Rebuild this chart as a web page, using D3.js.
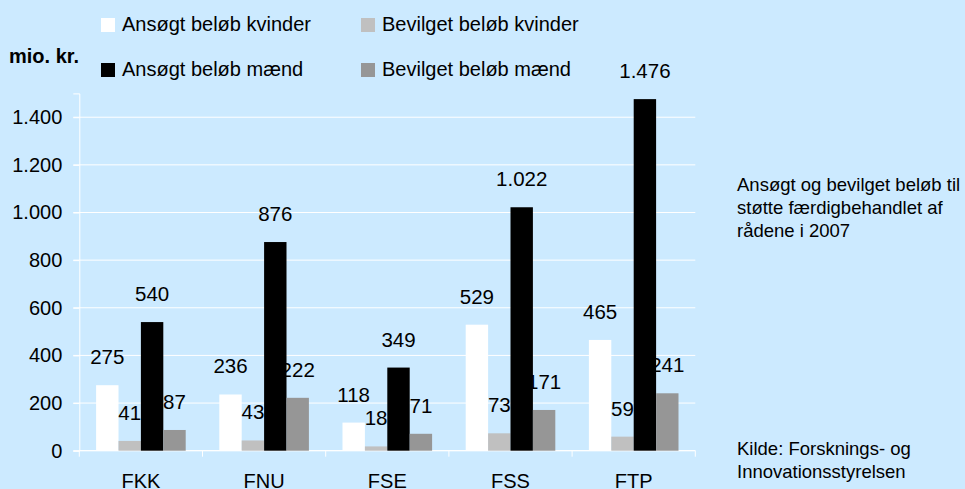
<!DOCTYPE html>
<html>
<head>
<meta charset="utf-8">
<script src="https://d3js.org/d3.v7.min.js"></script>
<style>
  body { margin: 0; background: #cceaff; }
  svg { display: block; font-family: "Liberation Sans", Arial, sans-serif; }
</style>
</head>
<body>
<svg class="chart" width="965" height="489"></svg>
<script>
// data (mio. kr.)
const categories = ["FKK", "FNU", "FSE", "FSS", "FTP"];
const seriesNames = ["Ansøgt beløb kvinder", "Bevilget beløb kvinder", "Ansøgt beløb mænd", "Bevilget beløb mænd"];
const ansoegtKvinder = [275, 236, 118, 529, 465];
const bevilgetKvinder = [41, 43, 18, 73, 59];
const ansoegtMaend = [540, 876, 349, 1022, 1476];
const bevilgetMaend = [87, 222, 71, 171, 241];
const yTicks = [0, 200, 400, 600, 800, 1000, 1200, 1400];
const seriesColors = ["#ffffff", "#c0c0c0", "#000000", "#969696"];

const seriesValues = [ansoegtKvinder, bevilgetKvinder, ansoegtMaend, bevilgetMaend];

// danish number format, 1.476
const dk = d3.formatLocale({decimal: ",", thousands: ".", grouping: [3], currency: ["", " kr."]});
const fmt = dk.format(",d");

const svg = d3.select(".chart");
const plotLeft = 79.3, plotRight = 695.3, plotTop = 93.4, plotBottom = 450.7;

let x0 = d3.scaleBand().domain(categories).range([plotLeft, plotRight]).padding(0);
let x1 = d3.scaleBand().domain(seriesNames).range([0, x0.bandwidth()]).paddingInner(0).paddingOuter(0.75);
let ys = d3.scaleLinear().domain([0, 1500]).range([plotBottom, plotTop]);

// gridlines (white)
svg.append("g").selectAll("line")
  .data(yTicks)
  .join("line")
  .attr("x1", plotLeft - 6).attr("x2", plotRight)
  .attr("y1", d => ys(d)).attr("y2", d => ys(d))
  .attr("stroke", "#ffffff").attr("stroke-width", 1);

// y axis
let y_axis = d3.axisLeft(ys).tickValues(yTicks).tickFormat(fmt).tickSize(6).tickPadding(11);
let yg = svg.append("g").attr("transform", "translate(" + plotLeft + ",0)").call(y_axis);
yg.select(".domain").attr("stroke", "#ffffff");
yg.selectAll(".tick line").attr("stroke", "#ffffff");
yg.selectAll(".tick text").attr("fill", "#000").style("font-size", "20px").attr("font-family", "Liberation Sans, Arial, sans-serif");

// x axis ticks at category boundaries
let bounds = categories.map(c => x0(c)).concat([plotRight]);
svg.append("g").selectAll("line")
  .data(bounds)
  .join("line")
  .attr("x1", d => d).attr("x2", d => d)
  .attr("y1", plotBottom).attr("y2", plotBottom + 6)
  .attr("stroke", "#ffffff");
svg.append("line")
  .attr("x1", plotLeft).attr("x2", plotRight).attr("y1", plotBottom).attr("y2", plotBottom)
  .attr("stroke", "#ffffff");

svg.append("g").selectAll("text")
  .data(categories)
  .join("text")
  .attr("x", d => x0(d) + x0.bandwidth() / 2)
  .attr("y", 488)
  .attr("text-anchor", "middle")
  .style("font-size", "20px")
  .text(d => d);

// bars
const flat = [];
categories.forEach((c, i) => {
  seriesNames.forEach((s, j) => flat.push({cat: c, series: s, j: j, value: seriesValues[j][i]}));
});

svg.append("g").selectAll("rect")
  .data(flat)
  .join("rect")
  .attr("x", d => x0(d.cat) + x1(d.series))
  .attr("width", x1.bandwidth())
  .attr("y", d => ys(d.value))
  .attr("height", d => ys(0) - ys(d.value))
  .attr("fill", d => seriesColors[d.j]);

// value labels
svg.append("g").selectAll("text")
  .data(flat)
  .join("text")
  .attr("x", d => x0(d.cat) + x1(d.series) + x1.bandwidth() / 2)
  .attr("y", d => ys(d.value) - 21)
  .attr("text-anchor", "middle")
  .style("font-size", "20.5px")
  .text(d => fmt(d.value));

// unit label
svg.append("text").attr("x", 9).attr("y", 63)
  .style("font-size", "20px").style("font-weight", "bold")
  .text("mio. kr.");

// legend
const legendPos = [[101, 18], [361, 18], [101, 63], [361, 63]];
let lg = svg.append("g").selectAll("g")
  .data(seriesNames)
  .join("g")
  .attr("transform", (d, i) => "translate(" + legendPos[i][0] + "," + legendPos[i][1] + ")");
lg.append("rect").attr("width", 14).attr("height", 14).attr("fill", (d, i) => seriesColors[i]);
lg.append("text").attr("x", 21).attr("y", 12.5).style("font-size", "20px").text(d => d);

// notes on the right
const note1 = ["Ansøgt og bevilget beløb til", "støtte færdigbehandlet af", "rådene i 2007"];
const note2 = ["Kilde: Forsknings- og", "Innovationsstyrelsen"];
svg.append("g").selectAll("text").data(note1).join("text")
  .attr("x", 737).attr("y", (d, i) => 191 + i * 23)
  .style("font-size", "18.5px").text(d => d);
svg.append("g").selectAll("text").data(note2).join("text")
  .attr("x", 737).attr("y", (d, i) => 455 + i * 23)
  .style("font-size", "18.5px").text(d => d);
</script>
</body>
</html>
